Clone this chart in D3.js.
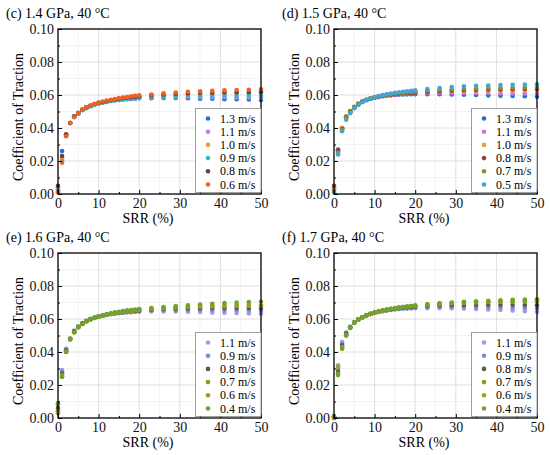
<!DOCTYPE html>
<html>
<head>
<meta charset="utf-8">
<script src="https://cdn.jsdelivr.net/npm/d3@7"></script>
<style>
  body { margin: 0; background: #fff; }
  svg { font-family: "Liberation Serif", "Times New Roman", serif; }
</style>
</head>
<body>
<svg id="chart" width="550" height="455"></svg>
<script>
// slide-to-roll ratio (%), same for every series
const srr = [0, 1, 2, 3, 4, 5, 6, 7, 8, 9, 10, 11, 12, 13, 14, 15, 16, 17, 18, 19, 20,
  23, 26, 29, 32, 35, 38, 41, 44, 47, 50];

const yTicks = [0, 0.02, 0.04, 0.06, 0.08, 0.1];
const xTicks = [0, 10, 20, 30, 40, 50];
const xMinor = [5, 15, 25, 35, 45];
const yMinor = [0.01, 0.03, 0.05, 0.07, 0.09];

// (c) 1.4 GPa
const titleC = "(c) 1.4 GPa, 40 °C";
const speedsC = ["1.3 m/s", "1.1 m/s", "1.0 m/s", "0.9 m/s", "0.8 m/s", "0.6 m/s"];
const colorsC = ["#1f6fcf", "#c97be6", "#e9a23a", "#22c2c0", "#6e3a4e", "#f2621f"];
const c13 = [0.002, 0.026, 0.036, 0.043, 0.047, 0.049, 0.051, 0.0525, 0.0535, 0.0545, 0.055, 0.0555, 0.056, 0.0565, 0.0568, 0.057, 0.0572, 0.0574, 0.0576, 0.0578, 0.058,
  0.058, 0.0582, 0.0582, 0.058, 0.0578, 0.0578, 0.0575, 0.0575, 0.0573, 0.057];
const c11 = [0.003, 0.022, 0.0355, 0.043, 0.047, 0.049, 0.051, 0.0525, 0.0535, 0.0545, 0.055, 0.0556, 0.0562, 0.0566, 0.057, 0.0572, 0.0575, 0.0577, 0.0579, 0.058, 0.0582,
  0.0585, 0.0587, 0.0588, 0.0588, 0.0587, 0.0587, 0.0586, 0.0585, 0.0585, 0.0584];
const c10 = [0.004, 0.021, 0.036, 0.043, 0.047, 0.049, 0.051, 0.0525, 0.0535, 0.0545, 0.0552, 0.0558, 0.0563, 0.0568, 0.0572, 0.0576, 0.0579, 0.0582, 0.0585, 0.0587, 0.059,
  0.0595, 0.06, 0.0602, 0.0605, 0.0606, 0.0607, 0.0608, 0.0609, 0.061, 0.061];
const c09 = [0.002, 0.02, 0.0355, 0.043, 0.047, 0.049, 0.051, 0.052, 0.053, 0.054, 0.0548, 0.0553, 0.0558, 0.0563, 0.0567, 0.057, 0.0573, 0.0577, 0.058, 0.0582, 0.0584,
  0.0588, 0.059, 0.0592, 0.0594, 0.0594, 0.0595, 0.0595, 0.0596, 0.0596, 0.0596];
const c08 = [0.005, 0.023, 0.036, 0.043, 0.047, 0.049, 0.051, 0.0525, 0.0535, 0.0545, 0.0552, 0.0558, 0.0564, 0.0569, 0.0574, 0.0578, 0.0582, 0.0585, 0.0588, 0.059, 0.0593,
  0.0598, 0.0603, 0.0607, 0.061, 0.0612, 0.0614, 0.0616, 0.0617, 0.0618, 0.062];
const c06 = [0.001, 0.019, 0.035, 0.043, 0.0465, 0.049, 0.051, 0.0525, 0.0535, 0.0545, 0.0553, 0.056, 0.0566, 0.0571, 0.0576, 0.058, 0.0585, 0.0588, 0.0592, 0.0595, 0.0598,
  0.0603, 0.061, 0.0615, 0.062, 0.0622, 0.0625, 0.0628, 0.063, 0.0632, 0.0635];

// (d) 1.5 GPa
const titleD = "(d) 1.5 GPa, 40 °C";
const speedsD = ["1.3 m/s", "1.1 m/s", "1.0 m/s", "0.8 m/s", "0.7 m/s", "0.5 m/s"];
const colorsD = ["#1f6fcf", "#d073e3", "#f0a23e", "#94403e", "#8f9020", "#3fa6d6"];
const d13 = [0.003, 0.027, 0.04, 0.047, 0.05, 0.0525, 0.0545, 0.056, 0.057, 0.0577, 0.0583, 0.0588, 0.0592, 0.0595, 0.0598, 0.06, 0.0602, 0.0603, 0.0604, 0.0605, 0.0605,
  0.0605, 0.0605, 0.0603, 0.0602, 0.06, 0.0598, 0.0596, 0.0594, 0.0592, 0.059];
const d11 = [0.004, 0.026, 0.0395, 0.0465, 0.05, 0.0525, 0.0545, 0.056, 0.057, 0.0577, 0.0583, 0.0588, 0.0592, 0.0596, 0.06, 0.0602, 0.0604, 0.0606, 0.0608, 0.061, 0.061,
  0.0612, 0.0613, 0.0613, 0.0613, 0.0612, 0.0612, 0.0611, 0.061, 0.061, 0.061];
const d10 = [0.003, 0.026, 0.04, 0.047, 0.0505, 0.053, 0.055, 0.0562, 0.0572, 0.058, 0.0586, 0.0591, 0.0596, 0.06, 0.0603, 0.0606, 0.0609, 0.0611, 0.0613, 0.0615, 0.0617,
  0.062, 0.0622, 0.0624, 0.0625, 0.0626, 0.0627, 0.0628, 0.0628, 0.0629, 0.063];
const d08 = [0.005, 0.0265, 0.0395, 0.0465, 0.05, 0.0525, 0.0545, 0.056, 0.057, 0.0578, 0.0585, 0.059, 0.0595, 0.0599, 0.0602, 0.0605, 0.0607, 0.0609, 0.0611, 0.0612, 0.0613,
  0.0618, 0.0622, 0.0626, 0.0629, 0.0631, 0.0633, 0.0634, 0.0635, 0.0636, 0.0637];
const d07 = [0.002, 0.025, 0.039, 0.046, 0.0495, 0.0525, 0.0545, 0.056, 0.0571, 0.058, 0.0587, 0.0593, 0.0598, 0.0602, 0.0606, 0.0609, 0.0612, 0.0614, 0.0617, 0.0619, 0.0621,
  0.0627, 0.0631, 0.0635, 0.0638, 0.064, 0.0642, 0.0643, 0.0644, 0.0645, 0.0645];
const d05 = [0.001, 0.024, 0.038, 0.045, 0.049, 0.052, 0.054, 0.0556, 0.0568, 0.0578, 0.0586, 0.0593, 0.0599, 0.0604, 0.0609, 0.0613, 0.0616, 0.0619, 0.0622, 0.0625, 0.0628,
  0.0636, 0.0642, 0.0648, 0.0652, 0.0656, 0.0658, 0.066, 0.0662, 0.0664, 0.0665];

// (e) 1.6 GPa
const titleE = "(e) 1.6 GPa, 40 °C";
const speedsE = ["1.1 m/s", "0.9 m/s", "0.8 m/s", "0.7 m/s", "0.6 m/s", "0.4 m/s"];
const colorsE = ["#a898e6", "#7690d6", "#5a5a48", "#7fa012", "#a89a1a", "#6fa232"];
const e11 = [0.005, 0.029, 0.042, 0.048, 0.053, 0.0555, 0.0575, 0.059, 0.06, 0.0608, 0.0615, 0.062, 0.0625, 0.0629, 0.0632, 0.0635, 0.0637, 0.0639, 0.064, 0.0642, 0.0644,
  0.0646, 0.0646, 0.0645, 0.0644, 0.0642, 0.064, 0.0638, 0.0636, 0.0634, 0.0632];
const e09 = [0.008, 0.028, 0.0415, 0.048, 0.0525, 0.0553, 0.0573, 0.0588, 0.0599, 0.0607, 0.0614, 0.062, 0.0625, 0.063, 0.0634, 0.0637, 0.064, 0.0642, 0.0644, 0.0646, 0.0648,
  0.0652, 0.0654, 0.0655, 0.0655, 0.0655, 0.0655, 0.0654, 0.0653, 0.0652, 0.0651];
const e08 = [0.006, 0.027, 0.041, 0.048, 0.0525, 0.0553, 0.0573, 0.0588, 0.0599, 0.0607, 0.0614, 0.062, 0.0626, 0.0631, 0.0635, 0.0638, 0.0641, 0.0644, 0.0647, 0.0649, 0.0651,
  0.0656, 0.066, 0.0662, 0.0664, 0.0665, 0.0666, 0.0666, 0.0667, 0.0667, 0.0667];
const e07 = [0.004, 0.026, 0.0405, 0.048, 0.052, 0.055, 0.057, 0.0586, 0.0598, 0.0607, 0.0615, 0.0621, 0.0627, 0.0632, 0.0636, 0.064, 0.0643, 0.0646, 0.0649, 0.0652, 0.0655,
  0.066, 0.0665, 0.0669, 0.0672, 0.0675, 0.0677, 0.0678, 0.0679, 0.068, 0.068];
const e06 = [0.003, 0.025, 0.04, 0.0475, 0.052, 0.055, 0.057, 0.0586, 0.0598, 0.0607, 0.0615, 0.0621, 0.0627, 0.0632, 0.0637, 0.0641, 0.0645, 0.0648, 0.0651, 0.0654, 0.0657,
  0.0662, 0.0667, 0.0671, 0.0674, 0.0676, 0.0678, 0.0679, 0.068, 0.068, 0.068];
const e04 = [0.009, 0.025, 0.04, 0.048, 0.052, 0.055, 0.057, 0.0587, 0.0599, 0.0608, 0.0616, 0.0623, 0.0629, 0.0635, 0.064, 0.0644, 0.0648, 0.0652, 0.0655, 0.0658, 0.0661,
  0.0667, 0.0673, 0.0678, 0.0683, 0.0688, 0.0692, 0.0696, 0.0699, 0.0702, 0.0705];

// (f) 1.7 GPa
const titleF = "(f) 1.7 GPa, 40 °C";
const speedsF = ["1.1 m/s", "0.9 m/s", "0.8 m/s", "0.7 m/s", "0.6 m/s", "0.4 m/s"];
const colorsF = colorsE;
const f11 = [0, 0.032, 0.046, 0.052, 0.0555, 0.058, 0.0598, 0.0612, 0.0622, 0.063, 0.0637, 0.0643, 0.0648, 0.0652, 0.0655, 0.0658, 0.066, 0.0662, 0.0663, 0.0664, 0.0665,
  0.0666, 0.0666, 0.0665, 0.0663, 0.0661, 0.0658, 0.0655, 0.0651, 0.0647, 0.0643];
const f09 = [0.001, 0.03, 0.045, 0.0515, 0.055, 0.0578, 0.0597, 0.0611, 0.0622, 0.063, 0.0637, 0.0643, 0.0648, 0.0652, 0.0656, 0.0659, 0.0662, 0.0664, 0.0666, 0.0668, 0.067,
  0.0673, 0.0674, 0.0674, 0.0674, 0.0673, 0.0672, 0.067, 0.0668, 0.0666, 0.0664];
const f08 = [0, 0.028, 0.044, 0.051, 0.055, 0.0578, 0.0597, 0.0611, 0.0622, 0.0631, 0.0638, 0.0644, 0.0649, 0.0654, 0.0658, 0.0662, 0.0665, 0.0668, 0.067, 0.0672, 0.0674,
  0.0679, 0.0682, 0.0684, 0.0685, 0.0686, 0.0686, 0.0686, 0.0686, 0.0685, 0.0684];
const f07 = [0.001, 0.027, 0.043, 0.0505, 0.055, 0.0578, 0.0597, 0.0611, 0.0622, 0.0631, 0.0639, 0.0646, 0.0652, 0.0657, 0.0662, 0.0666, 0.067, 0.0673, 0.0676, 0.0679, 0.0682,
  0.0689, 0.0695, 0.07, 0.0704, 0.0708, 0.0711, 0.0714, 0.0716, 0.0718, 0.072];
const f06 = [0, 0.031, 0.0425, 0.05, 0.0545, 0.0577, 0.0597, 0.0611, 0.0622, 0.0631, 0.0639, 0.0645, 0.0651, 0.0656, 0.066, 0.0664, 0.0668, 0.0671, 0.0674, 0.0677, 0.0679,
  0.0685, 0.069, 0.0694, 0.0697, 0.07, 0.0702, 0.0704, 0.0705, 0.0706, 0.0707];
const f04 = [0.001, 0.026, 0.042, 0.05, 0.0545, 0.0577, 0.0597, 0.0611, 0.0622, 0.0631, 0.0639, 0.0646, 0.0652, 0.0657, 0.0662, 0.0666, 0.067, 0.0673, 0.0676, 0.0679, 0.0682,
  0.0688, 0.0693, 0.0697, 0.07, 0.0703, 0.0705, 0.0707, 0.0708, 0.0709, 0.071];

const panels = [
  { title: titleC, speeds: speedsC, colors: colorsC, series: [c13, c11, c10, c09, c08, c06], ox: 0, oy: 0 },
  { title: titleD, speeds: speedsD, colors: colorsD, series: [d13, d11, d10, d08, d07, d05], ox: 276, oy: 0 },
  { title: titleE, speeds: speedsE, colors: colorsE, series: [e11, e09, e08, e07, e06, e04], ox: 0, oy: 224 },
  { title: titleF, speeds: speedsF, colors: colorsF, series: [f11, f09, f08, f07, f06, f04], ox: 276, oy: 224 }
];

const svg = d3.select("#chart");
const plotLeft = 58, plotRight = 261, plotTop = 29, plotBottom = 194;

const x = d3.scaleLinear().domain([0, 50]).range([plotLeft, plotRight]);
const y = d3.scaleLinear().domain([0, 0.1]).range([plotBottom, plotTop]);

const vGrid = (g, vals, color) => g.append("g").selectAll("line").data(vals).join("line")
  .attr("x1", (d) => x(d)).attr("x2", (d) => x(d))
  .attr("y1", plotTop).attr("y2", plotBottom)
  .style("stroke", color).style("stroke-width", 0.8);

const hGrid = (g, vals, color) => g.append("g").selectAll("line").data(vals).join("line")
  .attr("x1", plotLeft).attr("x2", plotRight)
  .attr("y1", (d) => y(d)).attr("y2", (d) => y(d))
  .style("stroke", color).style("stroke-width", 0.8);

const drawPanel = (p) => {
  const g = svg.append("g").attr("transform", `translate(${p.ox},${p.oy})`);

  // grid: faint minor, light major
  vGrid(g, xMinor, "#f0f0f0");
  hGrid(g, yMinor, "#f0f0f0");
  vGrid(g, xTicks.slice(1, -1), "#d8d8d8");
  hGrid(g, yTicks.slice(1, -1), "#d8d8d8");

  // points, series drawn in legend order
  p.series.forEach((vals, i) => {
    g.append("g").selectAll("circle").data(vals).join("circle")
      .attr("cx", (d, j) => x(srr[j]))
      .attr("cy", (d) => y(d))
      .attr("r", 2.3)
      .style("fill", p.colors[i]);
  });

  // axes, ticks pointing in
  const xAxis = g.append("g").attr("transform", `translate(0,${plotBottom})`)
    .call(d3.axisBottom(x).tickValues(xTicks).tickSizeInner(-4).tickSizeOuter(0).tickPadding(4));
  g.append("g").attr("transform", `translate(0,${plotBottom})`)
    .call(d3.axisBottom(x).tickValues(xMinor).tickSizeInner(-2).tickSizeOuter(0).tickFormat(""));
  const yAxis = g.append("g").attr("transform", `translate(${plotLeft},0)`)
    .call(d3.axisLeft(y).tickValues(yTicks).tickFormat(d3.format(".2f")).tickSizeInner(-4).tickSizeOuter(0).tickPadding(4));
  g.append("g").attr("transform", `translate(${plotLeft},0)`)
    .call(d3.axisLeft(y).tickValues(yMinor).tickSizeInner(-2).tickSizeOuter(0).tickFormat(""));
  g.selectAll(".domain").remove();
  [xAxis, yAxis].forEach((a) => a.selectAll("text")
    .style("font-family", "Liberation Serif").style("font-size", "14px").style("fill", "#111"));

  // frame
  g.append("rect")
    .attr("x", plotLeft).attr("y", plotTop)
    .attr("width", plotRight - plotLeft).attr("height", plotBottom - plotTop)
    .style("fill", "none").style("stroke", "#000").style("stroke-width", 1.3);

  // labels
  g.append("text").attr("x", 6).attr("y", 18).text(p.title)
    .style("font-size", "14px");
  g.append("text").attr("x", 148).attr("y", 223).attr("text-anchor", "middle").text("SRR (%)")
    .style("font-size", "14px");
  g.append("text").attr("transform", "translate(23,117) rotate(-90)").attr("text-anchor", "middle")
    .text("Coefficient of Traction").style("font-size", "14px");

  // legend
  const lg = g.append("g");
  lg.append("rect").attr("x", 195.5).attr("y", 108.5).attr("width", 65.5).attr("height", 84)
    .style("fill", "#fff").style("stroke", "#888").style("stroke-width", 0.8);
  p.speeds.forEach((s, i) => {
    const yy = 118.5 + i * 13.2;
    lg.append("circle").attr("cx", 208).attr("cy", yy).attr("r", 2.3).style("fill", p.colors[i]);
    lg.append("text").attr("x", 220).attr("y", yy + 4).text(s).style("font-size", "12px");
  });
};

panels.forEach(drawPanel);
</script>
</body>
</html>
